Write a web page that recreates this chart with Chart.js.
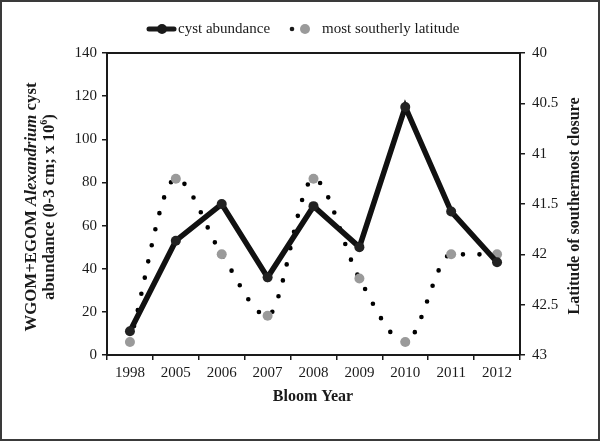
<!DOCTYPE html>
<html>
  <head>
    <title>Cyst abundance vs latitude</title>
    <script src="https://cdn.jsdelivr.net/npm/chart.js"></script>
    <style>
      body {
        margin: 0;
        background: white;
      }
      .chart-container {
        width: 600px;
        height: 441px;
        box-sizing: border-box;
        border: 2px solid #3a3a3a;
        background-color: white;
      }
    </style>
  </head>
  <body>
    <div class="chart-container">
      <canvas id="cystChart"></canvas>
    </div>

    <script>
      const years = ["1998", "2005", "2006", "2007", "2008", "2009", "2010", "2011", "2012"];
      const cystAbundance = [11, 53, 70, 36, 69, 50, 115, 66.5, 43];
      const southLatitude = [42.87, 41.25, 42.0, 42.61, 41.25, 42.24, 42.87, 42.0, 42.0];
      const cystTicks = [0, 20, 40, 60, 80, 100, 120, 140];
      const latTicks = [40, 40.5, 41, 41.5, 42, 42.5, 43];

      const serif = '"Liberation Serif", "Times New Roman", serif';
      const ink = "#1a1a1a";
      const tickFont = { family: serif, size: 15 };

      // draws a line made of several font runs, centred on (cx, cy)
      function drawRuns(ctx, runs, cx, cy) {
        let total = 0;
        runs.forEach((r) => {
          ctx.font = r.font;
          r.w = ctx.measureText(r.text).width;
          total += r.w;
        });
        let x = cx - total / 2;
        runs.forEach((r) => {
          ctx.font = r.font;
          ctx.fillText(r.text, x, cy + (r.dy || 0));
          x += r.w;
        });
      }

      const extras = {
        id: "extras",
        afterDraw(chart) {
          const { ctx, chartArea: a } = chart;
          ctx.save();
          // top frame line
          ctx.strokeStyle = ink;
          ctx.lineWidth = 2;
          ctx.beginPath();
          ctx.moveTo(a.left - 1, a.top);
          ctx.lineTo(a.right + 1, a.top);
          ctx.stroke();

          ctx.fillStyle = ink;
          ctx.textBaseline = "middle";
          ctx.textAlign = "left";

          // legend
          const ly = 27;
          ctx.lineWidth = 5;
          ctx.lineCap = "round";
          ctx.beginPath();
          ctx.moveTo(147, ly);
          ctx.lineTo(172, ly);
          ctx.stroke();
          ctx.beginPath();
          ctx.arc(160, ly, 5, 0, Math.PI * 2);
          ctx.fill();
          ctx.font = "15px " + serif;
          ctx.fillText("cyst abundance", 176, ly);
          ctx.beginPath();
          ctx.arc(290, ly, 2.3, 0, Math.PI * 2);
          ctx.fill();
          ctx.fillStyle = "#9a9a9a";
          ctx.beginPath();
          ctx.arc(303, ly, 5, 0, Math.PI * 2);
          ctx.fill();
          ctx.fillStyle = ink;
          ctx.fillText("most southerly latitude", 320, ly);

          const bold = "bold 16px " + serif;
          // x title
          drawRuns(ctx, [{ text: "Bloom Year", font: bold }], 311, 395);

          // left title
          const lbold = "bold 16.8px " + serif;
          ctx.save();
          ctx.translate(30, 205);
          ctx.rotate(-Math.PI / 2);
          drawRuns(
            ctx,
            [
              { text: "WGOM+EGOM ", font: lbold },
              { text: "Alexandrium", font: "italic bold 16.8px " + serif },
              { text: " cyst", font: lbold },
            ],
            0,
            0
          );
          ctx.translate(0, 18);
          drawRuns(
            ctx,
            [
              { text: "abundance (0-3 cm; x 10", font: lbold },
              { text: "6", font: "bold 10px " + serif, dy: -6 },
              { text: ")", font: lbold },
            ],
            0,
            0
          );
          ctx.restore();

          // right title
          ctx.save();
          ctx.translate(573, 204);
          ctx.rotate(-Math.PI / 2);
          drawRuns(ctx, [{ text: "Latitude of southermost closure", font: bold }], 0, 0);
          ctx.restore();
          ctx.restore();
        },
      };

      const axisGrid = {
        drawOnChartArea: false,
        drawTicks: true,
        tickLength: 5,
        color: ink,
        lineWidth: 1.5,
      };

      new Chart(document.getElementById("cystChart").getContext("2d"), {
        type: "line",
        data: {
          labels: years,
          datasets: [
            {
              label: "cyst abundance",
              data: cystAbundance,
              yAxisID: "y",
              borderColor: "#111",
              backgroundColor: "#222",
              borderWidth: 5.5,
              pointRadius: 5,
              pointBorderWidth: 0,
              tension: 0,
              order: 0,
            },
            {
              label: "most southerly latitude",
              data: southLatitude,
              yAxisID: "y2",
              borderColor: "#000",
              borderWidth: 4.6,
              borderDash: [0, 16.5],
              borderCapStyle: "round",
              pointBackgroundColor: "#9a9a9a",
              pointBorderWidth: 0,
              pointRadius: 5,
              cubicInterpolationMode: "monotone",
              tension: 0.4,
              order: 1,
            },
          ],
        },
        options: {
          responsive: true,
          maintainAspectRatio: false,
          animation: false,
          layout: { padding: { top: 51, left: 0, right: 0, bottom: 0 } },
          plugins: {
            legend: { display: false },
            tooltip: { enabled: false },
          },
          scales: {
            x: {
              type: "category",
              offset: true,
              grid: { ...axisGrid, offset: true },
              border: { color: ink, width: 2 },
              ticks: { font: tickFont, color: ink, padding: 4, maxRotation: 0 },
              afterFit(s) {
                s.height = 84;
              },
            },
            y: {
              position: "left",
              min: 0,
              max: 140,
              grid: axisGrid,
              border: { color: ink, width: 2 },
              ticks: { font: tickFont, color: ink, padding: 5 },
              afterBuildTicks(s) {
                s.ticks = cystTicks.map((v) => ({ value: v }));
              },
              afterFit(s) {
                s.width = 105;
              },
            },
            y2: {
              position: "right",
              reverse: true,
              min: 40,
              max: 43,
              grid: axisGrid,
              border: { color: ink, width: 2 },
              ticks: {
                font: tickFont,
                color: ink,
                padding: 7,
                callback: (v) => String(v),
              },
              afterBuildTicks(s) {
                s.ticks = latTicks.map((v) => ({ value: v }));
              },
              afterFit(s) {
                s.width = 78;
              },
            },
          },
        },
        plugins: [extras],
      });
    </script>
  </body>
</html>
